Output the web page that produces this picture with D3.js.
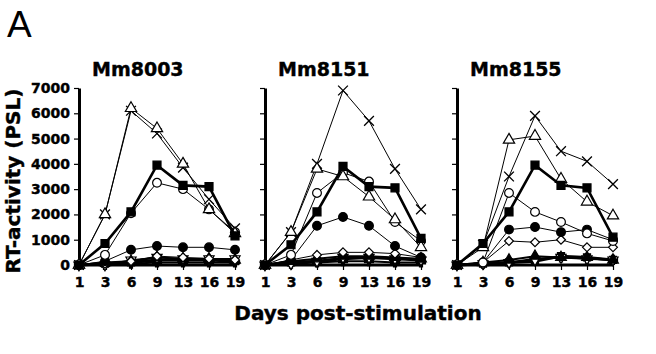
<!DOCTYPE html>
<html>
<head>
<meta charset="utf-8">
<script src="https://cdn.jsdelivr.net/npm/d3@7"></script>
<style>
  body { margin: 0; background: #fff; }
  svg { display: block; }
  text { font-family: "DejaVu Sans", sans-serif; font-weight: bold; fill: #000; }
  .heavy { stroke: #000; stroke-width: 0.4px; }
</style>
</head>
<body>
<svg id="chart" width="656" height="354"></svg>
<script>
// days on the x axis (evenly spaced categories)
const days = ["1", "3", "6", "9", "13", "16", "19"];
const panelNames = ["Mm8003", "Mm8151", "Mm8155"];
const yTicks = [0, 1000, 2000, 3000, 4000, 5000, 6000, 7000];

// series order used in each panel array below
const seriesKeys = ["smallSquare", "star", "openDownTriangle", "filledTriangle", "openDiamond",
                    "filledCircle", "openCircle", "cross", "openTriangle", "filledSquare"];

const mm8003 = [
  [0, 50, 100, 200, 200, 200, 150],
  [0, 0, 50, 100, 100, 100, 100],
  [0, 0, 200, 300, 250, 250, 250],
  [0, 100, 150, 300, 250, 250, 200],
  [0, 50, 150, 350, 300, 250, 200],
  [0, 150, 600, 750, 700, 700, 600],
  [0, 400, 2050, 3250, 3000, 2200, 1300],
  [0, 2000, 6100, 5200, 3850, 2600, 1450],
  [0, 2000, 6200, 5400, 4000, 2200, 1250],
  [0, 850, 2100, 3950, 3150, 3100, 1150]
];
const mm8151 = [
  [0, 100, 150, 250, 300, 250, 200],
  [0, 50, 100, 150, 150, 100, 100],
  [0, 50, 150, 300, 300, 250, 200],
  [0, 150, 250, 350, 350, 300, 250],
  [0, 200, 400, 500, 500, 450, 300],
  [0, 200, 1550, 1900, 1550, 750, 300],
  [0, 400, 2850, 3650, 3300, 1700, 950],
  [0, 1300, 4000, 6900, 5700, 3800, 2200],
  [0, 1300, 3800, 3500, 2700, 1800, 700],
  [0, 800, 2100, 3900, 3100, 3050, 1050]
];
const mm8155 = [
  [0, 50, 100, 150, 350, 300, 200],
  [0, 50, 100, 250, 300, 250, 200],
  [0, 50, 100, 200, 300, 250, 200],
  [0, 100, 200, 350, 300, 300, 200],
  [0, 100, 950, 900, 1000, 700, 700],
  [0, 100, 1400, 1500, 1300, 1400, 1000],
  [0, 100, 2850, 2100, 1700, 1250, 950],
  [0, 800, 3500, 5900, 4500, 4100, 3200],
  [0, 700, 4950, 5100, 3400, 2500, 1950],
  [0, 850, 2100, 3950, 3150, 3050, 1100]
];
const panelData = [mm8003, mm8151, mm8155];

const svg = d3.select("#chart");
const panelLeft = [79, 265, 457];
const panelW = 156;
const y = d3.scaleLinear().domain([0, 7000]).range([265, 88]);

// marker look per series
const markers = {
  filledSquare:     { type: d3.symbolSquare,   size: 64, fill: "#000", lw: 2.6 },
  openCircle:       { type: d3.symbolCircle,   size: 60, fill: "#fff", lw: 1 },
  openTriangle:     { type: d3.symbolTriangle, size: 55, fill: "#fff", lw: 1 },
  cross:            { type: d3.symbolTimes,    size: 64, fill: "none", lw: 1 },
  filledCircle:     { type: d3.symbolCircle,   size: 60, fill: "#000", lw: 1 },
  openDiamond:      { type: d3.symbolDiamond2, size: 50, fill: "#fff", lw: 1 },
  filledTriangle:   { type: d3.symbolTriangle, size: 50, fill: "#000", lw: 2 },
  openDownTriangle: { type: d3.symbolTriangle, size: 45, fill: "#fff", lw: 1.5, rot: 180 },
  smallSquare:      { type: d3.symbolSquare,   size: 50, fill: "#000", lw: 3 },
  star:             { type: d3.symbolCross,    size: 45, fill: "#000", lw: 2 }
};

panelData.forEach(function(data, p) {
  const x0 = panelLeft[p];
  const x = d3.scalePoint().domain(days).range([x0, x0 + panelW]);
  const g = svg.append("g");

  // y axis
  const ya = g.append("g").attr("transform", "translate(" + x0 + ",0)")
    .call(d3.axisLeft(y).tickValues(yTicks).tickSize(5).tickSizeOuter(0)
      .tickFormat(p === 0 ? d3.format("d") : ""));
  ya.select(".domain").attr("stroke-width", 3);
  ya.selectAll(".tick line").attr("stroke-width", 1.2);
  ya.selectAll(".tick text").attr("font-size", 14).attr("font-family", "DejaVu Sans")
    .attr("font-weight", "bold").attr("x", -9).classed("heavy", true);

  // x axis
  const xa = g.append("g").attr("transform", "translate(0,265)")
    .call(d3.axisBottom(x).tickSize(5).tickSizeOuter(0));
  xa.select(".domain").attr("stroke-width", 3).attr("d", "M" + (x0 - 1) + ",0H" + (x0 + panelW + 1));
  xa.selectAll(".tick line").attr("stroke-width", 1.2);
  xa.selectAll(".tick text").attr("font-size", 14).attr("font-family", "DejaVu Sans")
    .attr("font-weight", "bold").attr("y", 12).classed("heavy", true);

  // panel title
  g.append("text").attr("x", x0 + 13).attr("y", 76).classed("heavy", true)
    .attr("font-size", 19).text(panelNames[p]);

  const line = d3.line().x(function(d, i) { return x(days[i]); }).y(function(d) { return y(d); });

  data.forEach(function(vals, s) {
    const m = markers[seriesKeys[s]];
    g.append("path").datum(vals).attr("d", line)
      .attr("fill", "none").attr("stroke", "#000").attr("stroke-width", m.lw);
    const sym = d3.symbol().type(m.type).size(m.size);
    g.selectAll(null).data(vals).enter().append("path")
      .attr("d", sym)
      .attr("transform", function(d, i) {
        return "translate(" + x(days[i]) + "," + y(d) + ")" + (m.rot ? " rotate(" + m.rot + ")" : "");
      })
      .attr("fill", m.fill)
      .attr("stroke", "#000")
      .attr("stroke-width", m.fill === "none" ? 1.3 : 1.2);
  });
});

// axis titles and panel letter
svg.append("text").attr("x", 358).attr("y", 320).attr("text-anchor", "middle").classed("heavy", true)
  .attr("font-size", 20).text("Days post-stimulation");
svg.append("text").attr("transform", "translate(20,181) rotate(-90)").classed("heavy", true)
  .attr("text-anchor", "middle").attr("font-size", 20).text("RT-activity (PSL)");
svg.append("text").attr("x", 7).attr("y", 37).attr("font-size", 37)
  .style("font-family", "'Liberation Sans', Arial, sans-serif").style("font-weight", "normal")
  .text("A");
</script>
</body>
</html>
